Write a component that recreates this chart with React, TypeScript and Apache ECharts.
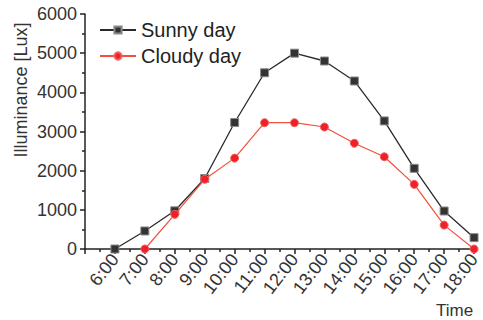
import React, { useEffect, useRef } from "react";
import * as echarts from "echarts";

const hours = [6, 7, 8, 9, 10, 11, 12, 13, 14, 15, 16, 17, 18];
const sunnyValues = [0, 460, 975, 1800, 3230, 4500, 5000, 4800, 4290, 3270, 2060, 970, 290];
const cloudyHours = [7, 8, 9, 10, 11, 12, 13, 14, 15, 16, 17, 18];
const cloudyValues = [0, 885, 1780, 2320, 3225, 3225, 3115, 2700, 2355, 1650, 610, 0];
const yTicks = [0, 1000, 2000, 3000, 4000, 5000, 6000];

const FONT = "Liberation Sans, Arial, sans-serif";

export default function App() {
  const ref = useRef<HTMLDivElement>(null);
  useEffect(() => {
    if (!ref.current) return;
    const chart = echarts.init(ref.current, null, { renderer: "svg" });
    chart.setOption({
      animation: false,
      backgroundColor: "#ffffff",
      textStyle: { fontFamily: FONT },
      grid: { left: 85, right: 4, top: 14, bottom: 71, containLabel: false },
      legend: {
        orient: "vertical",
        left: 94,
        top: 15,
        itemWidth: 36,
        itemHeight: 9,
        itemGap: 6,
        textStyle: { fontSize: 20, color: "#222", fontFamily: FONT },
        data: ["Sunny day", "Cloudy day"],
      },
      xAxis: {
        type: "value",
        min: 5,
        max: 18,
        interval: 1,
        axisLine: { show: true, onZero: false, lineStyle: { color: "#222", width: 1.5 } },
        axisTick: { show: true, inside: false, length: 5, lineStyle: { color: "#222", width: 1.5 } },
        minorTick: { show: true, splitNumber: 2, length: 3, lineStyle: { color: "#222", width: 1.5 } },
        splitLine: { show: false },
        axisLabel: {
          rotate: 52,
          margin: 7,
          fontSize: 18,
          color: "#333",
          fontFamily: FONT,
          formatter: (v: number) => (hours.includes(v) ? `${v}:00` : ""),
        },
      },
      yAxis: {
        type: "value",
        min: yTicks[0],
        max: yTicks[yTicks.length - 1],
        interval: 1000,
        axisLine: { show: true, lineStyle: { color: "#222", width: 1.5 } },
        axisTick: { show: true, inside: false, length: 5, lineStyle: { color: "#222", width: 1.5 } },
        minorTick: { show: true, splitNumber: 2, length: 3, lineStyle: { color: "#222", width: 1.5 } },
        splitLine: { show: false },
        axisLabel: {
          margin: 8,
          fontSize: 18,
          color: "#333",
          fontFamily: FONT,
          formatter: (v: number) => String(v),
        },
      },
      graphic: [
        {
          type: "text",
          x: 12,
          y: 90,
          rotation: Math.PI / 2,
          style: {
            text: "Illuminance [Lux]",
            fontSize: 18,
            fontFamily: FONT,
            fill: "#333",
            align: "center",
            verticalAlign: "top",
          },
        },
        {
          type: "text",
          x: 436,
          y: 302,
          style: { text: "Time", fontSize: 17, fontFamily: FONT, fill: "#333" },
        },
      ],
      series: [
        {
          name: "Sunny day",
          type: "line",
          data: hours.map((h, i) => [h, sunnyValues[i]]),
          symbol: "rect",
          symbolSize: 8,
          clip: false,
          lineStyle: { color: "#2a2a2a", width: 1.3 },
          itemStyle: { color: "#333333", borderColor: "#8a8a8a", borderWidth: 1 },
          z: 2,
        },
        {
          name: "Cloudy day",
          type: "line",
          data: cloudyHours.map((h, i) => [h, cloudyValues[i]]),
          symbol: "circle",
          symbolSize: 8,
          clip: false,
          lineStyle: { color: "#f0503c", width: 1.2 },
          itemStyle: { color: "#ee2028", borderColor: "#f06060", borderWidth: 1 },
          z: 3,
        },
      ],
    });
    return () => chart.dispose();
  }, []);
  return <div ref={ref} style={{ width: 483, height: 320, position: "absolute", left: 0, top: 0 }} />;
}
